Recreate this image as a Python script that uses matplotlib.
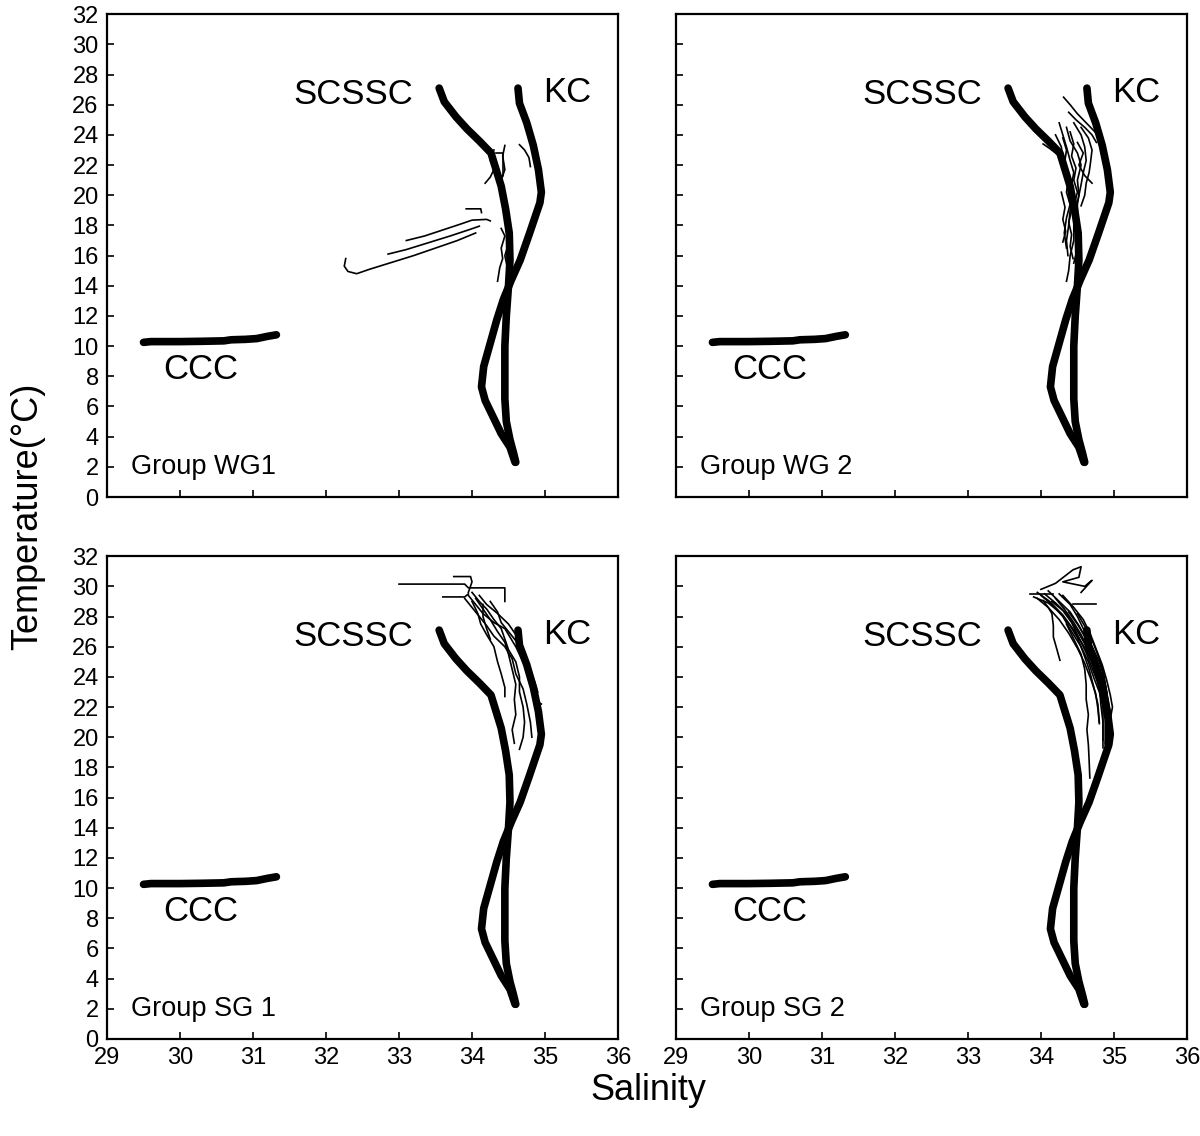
import matplotlib
matplotlib.use("Agg")
import matplotlib.pyplot as plt

plt.rcParams.update({
    "font.family": ["Liberation Sans", "DejaVu Sans"],
    "font.size": 17,
    "axes.linewidth": 1.6,
    "xtick.direction": "in", "ytick.direction": "in",
    "xtick.major.size": 5, "ytick.major.size": 5,
    "xtick.major.width": 1.2, "ytick.major.width": 1.2,
})

# reference water-mass curves (salinity, temperature)
scssc_s = [33.55, 33.62, 33.78, 33.93, 34.1, 34.26, 34.33, 34.4, 34.46, 34.51, 34.52,
           34.5, 34.47, 34.45, 34.45, 34.45, 34.47, 34.52, 34.57, 34.6]
scssc_t = [27.1, 26.2, 25.2, 24.4, 23.6, 22.8, 21.7, 20.6, 19.1, 17.5, 15.7,
           14.0, 12.0, 10.0, 8.0, 6.5, 5.0, 3.8, 2.9, 2.3]
kc_s = [34.63, 34.65, 34.75, 34.84, 34.91, 34.95, 34.93, 34.79, 34.66, 34.54, 34.43,
        34.34, 34.25, 34.16, 34.13, 34.18, 34.29, 34.4, 34.52, 34.59]
kc_t = [27.1, 26.1, 24.8, 23.3, 21.7, 20.2, 19.5, 17.5, 15.7, 14.4, 13.1,
        11.75, 10.2, 8.65, 7.3, 6.4, 5.3, 4.2, 3.3, 2.3]
ccc_s = [29.5, 29.6, 29.8, 30.0, 30.3, 30.6, 30.7, 30.9, 31.05, 31.2, 31.32]
ccc_t = [10.25, 10.3, 10.3, 10.3, 10.32, 10.35, 10.42, 10.45, 10.5, 10.65, 10.75]

# observed profiles per group, each profile = (salinity list, temperature list)
wg1 = [
    ([32.27, 32.25, 32.3, 32.42, 32.6, 32.9, 33.2, 33.5, 33.8, 34.05],
     [15.8, 15.3, 14.95, 14.8, 15.1, 15.55, 16.0, 16.5, 17.0, 17.5]),
    ([32.85, 33.1, 33.4, 33.7, 33.95, 34.1],
     [16.1, 16.4, 16.85, 17.3, 17.7, 17.95]),
    ([33.1, 33.35, 33.6, 33.85, 34.0, 34.2, 34.25],
     [17.0, 17.3, 17.7, 18.1, 18.35, 18.4, 18.3]),
    ([33.92, 34.12, 34.13], [19.1, 19.1, 18.85]),
    ([34.3, 34.25, 34.3, 34.25, 34.18], [23.0, 22.3, 21.7, 21.2, 20.8]),
    ([34.45, 34.42, 34.45, 34.4], [23.3, 22.6, 21.7, 21.0]),
    ([34.33, 34.42, 34.42, 34.33, 34.33], [22.8, 22.8, 21.3, 21.3, 22.2]),
    ([34.65, 34.72, 34.78, 34.8], [23.35, 23.0, 22.5, 21.9]),
    ([34.4, 34.45, 34.4, 34.42, 34.38, 34.35], [17.8, 17.3, 16.5, 15.8, 15.2, 14.3]),
    ([34.47, 34.5, 34.45, 34.48], [17.6, 16.8, 16.0, 15.3]),
]
wg2 = [
    ([34.31, 34.4, 34.5, 34.6, 34.7, 34.8], [26.5, 26.0, 25.4, 24.9, 24.4, 23.9]),
    ([34.38, 34.48, 34.6, 34.7, 34.76], [25.5, 25.0, 24.5, 24.0, 23.5]),
    ([34.03, 34.12, 34.2, 34.27], [23.4, 23.1, 22.8, 22.5]),
    ([34.25, 34.3, 34.35, 34.4, 34.45, 34.42, 34.45, 34.4, 34.38, 34.35, 34.37],
     [24.8, 24.0, 23.2, 22.3, 21.5, 20.7, 19.8, 19.0, 18.0, 17.0, 16.0]),
    ([34.35, 34.4, 34.5, 34.55, 34.5, 34.52, 34.48, 34.45, 34.45, 34.4, 34.38, 34.35],
     [24.5, 23.6, 22.8, 22.0, 21.0, 20.0, 19.0, 18.0, 17.0, 16.0, 15.0, 14.3]),
    ([34.45, 34.55, 34.6, 34.62, 34.58, 34.55, 34.5, 34.5, 34.48, 34.5, 34.45],
     [24.8, 24.0, 23.2, 22.3, 21.5, 20.7, 19.5, 18.5, 17.5, 16.5, 15.5]),
    ([34.55, 34.65, 34.7, 34.68, 34.66, 34.62, 34.6, 34.55],
     [24.5, 23.8, 23.0, 22.2, 21.5, 20.8, 20.0, 19.3]),
    ([34.3, 34.35, 34.32, 34.38, 34.35, 34.4, 34.35, 34.32, 34.35],
     [23.8, 23.0, 22.0, 21.2, 20.2, 19.4, 18.5, 17.5, 16.5]),
    ([34.5, 34.58, 34.52, 34.6, 34.7], [23.5, 22.8, 22.0, 21.3, 20.8]),
    ([34.2, 34.28, 34.3, 34.35, 34.4], [24.0, 23.2, 22.4, 21.6, 20.8]),
    ([34.4, 34.45, 34.42, 34.48, 34.45, 34.5, 34.46], [24.2, 23.4, 22.6, 21.8, 21.0, 20.2, 19.5]),
    ([34.38, 34.42, 34.38, 34.42, 34.4, 34.44], [19.8, 19.0, 18.2, 17.4, 16.6, 15.8]),
    ([34.28, 34.33, 34.3, 34.34, 34.3], [20.2, 19.2, 18.4, 17.6, 16.9]),
]
sg1 = [
    ([33.0, 33.9, 33.95, 34.45, 34.45], [30.15, 30.15, 29.9, 29.9, 29.0]),
    ([33.75, 33.98, 34.0, 33.95], [30.65, 30.65, 30.3, 29.6]),
    ([33.6, 33.9, 33.95], [29.3, 29.3, 29.5]),
    ([33.95, 34.05, 34.15, 34.3, 34.45, 34.6, 34.7, 34.8, 34.85, 34.9, 34.92],
     [29.4, 28.8, 28.2, 27.6, 27.2, 26.0, 25.0, 24.0, 23.0, 22.0, 21.0]),
    ([33.9, 34.0, 34.1, 34.2, 34.3, 34.45, 34.55, 34.6, 34.7, 34.75, 34.8, 34.82],
     [29.2, 28.6, 28.0, 27.4, 26.7, 26.0, 25.2, 24.2, 23.2, 22.2, 21.0, 20.0]),
    ([34.0, 34.08, 34.12, 34.2, 34.3, 34.35, 34.4, 34.45, 34.45],
     [29.0, 28.2, 27.5, 26.8, 26.0, 25.0, 24.2, 23.3, 22.7]),
    ([34.05, 34.15, 34.25, 34.35, 34.45, 34.5, 34.55, 34.6, 34.58, 34.6, 34.55, 34.58],
     [29.2, 28.5, 27.8, 27.0, 26.3, 25.5, 24.5, 23.5, 22.5, 21.5, 20.5, 19.6]),
    ([34.1, 34.2, 34.35, 34.5, 34.6, 34.65, 34.75, 34.8, 34.85, 34.95],
     [29.4, 28.8, 28.2, 27.5, 26.8, 25.8, 24.8, 23.5, 22.5, 22.2]),
    ([34.0, 34.1, 34.2, 34.3, 34.4, 34.45, 34.5, 34.6, 34.65, 34.65, 34.7, 34.72, 34.7, 34.65],
     [29.6, 29.0, 28.5, 27.8, 27.2, 26.5, 25.8, 25.0, 24.0, 23.0, 22.0, 21.0, 20.0, 19.2]),
    ([34.15, 34.15, 34.2, 34.25], [28.8, 28.0, 27.2, 26.5]),
    ([34.25, 34.35, 34.4, 34.5, 34.6, 34.7, 34.78, 34.85, 34.9],
     [29.0, 28.3, 27.6, 27.0, 26.4, 25.6, 24.6, 23.8, 23.0]),
]
sg2 = [
    ([34.0, 34.2, 34.44, 34.55, 34.52, 34.3, 34.6, 34.7, 34.55],
     [29.8, 30.2, 31.1, 31.3, 30.6, 30.3, 30.0, 30.4, 29.6]),
    ([33.85, 34.17], [29.5, 29.5]),
    ([34.44, 34.75], [28.8, 28.8]),
    ([34.03, 34.1, 34.15, 34.17, 34.17, 34.22, 34.26],
     [29.06, 28.6, 28.2, 27.4, 26.65, 25.8, 25.1]),
    ([34.0, 34.15, 34.3, 34.42, 34.55, 34.65, 34.72, 34.8, 34.85, 34.85, 34.85, 34.85],
     [29.4, 28.8, 28.0, 27.0, 26.0, 25.0, 24.0, 23.0, 22.0, 21.0, 20.0, 19.3]),
    ([34.05, 34.2, 34.35, 34.48, 34.6, 34.7, 34.78, 34.85, 34.9, 34.92, 34.9, 34.88],
     [29.5, 28.9, 28.2, 27.2, 26.2, 25.2, 24.3, 23.3, 22.3, 21.3, 20.3, 19.5]),
    ([33.95, 34.1, 34.25, 34.38, 34.5, 34.6, 34.68, 34.75, 34.78, 34.8],
     [29.2, 28.6, 27.8, 26.9, 25.9, 24.9, 23.9, 22.9, 21.9, 20.9]),
    ([34.1, 34.25, 34.4, 34.52, 34.62, 34.72, 34.8, 34.88, 34.92, 34.95],
     [29.7, 29.0, 28.3, 27.4, 26.5, 25.5, 24.5, 23.5, 22.5, 21.5]),
    ([34.2, 34.32, 34.45, 34.55, 34.65, 34.75, 34.82, 34.88],
     [29.2, 28.5, 27.6, 26.8, 25.8, 24.8, 23.8, 22.8]),
    ([34.3, 34.45, 34.58, 34.68, 34.76, 34.84, 34.9, 34.95, 34.98, 34.95],
     [29.4, 28.6, 27.8, 26.8, 25.8, 24.8, 23.8, 22.8, 22.0, 21.2]),
    ([34.35, 34.45, 34.55, 34.6, 34.62, 34.62, 34.65, 34.63, 34.65, 34.66, 34.67],
     [27.5, 26.5, 25.5, 24.5, 23.5, 22.5, 21.5, 20.5, 19.5, 18.5, 17.3]),
    ([34.38, 34.5, 34.6, 34.7, 34.75, 34.8, 34.82, 34.85, 34.85],
     [28.3, 27.5, 26.7, 25.8, 24.7, 23.5, 22.2, 21.0, 19.8]),
    ([33.9, 34.1, 34.3, 34.45, 34.58, 34.7, 34.8, 34.9, 34.95],
     [29.3, 28.9, 28.1, 27.1, 26.1, 25.0, 23.8, 22.5, 20.5]),
    ([34.15, 34.3, 34.42, 34.52, 34.62, 34.7, 34.78, 34.84, 34.88, 34.88],
     [29.0, 28.4, 27.6, 26.6, 25.6, 24.6, 23.6, 22.4, 21.2, 19.6]),
    ([33.95, 34.12, 34.28, 34.4, 34.5, 34.58, 34.66, 34.72, 34.78, 34.8],
     [29.6, 29.0, 28.2, 27.4, 26.6, 25.6, 24.5, 23.4, 22.2, 21.0]),
    ([34.25, 34.4, 34.5, 34.6, 34.7, 34.8, 34.86, 34.9, 34.92, 34.9],
     [29.5, 28.8, 28.0, 27.0, 26.0, 25.0, 24.0, 23.0, 21.8, 19.8]),
    ([34.5, 34.62, 34.72, 34.8, 34.86, 34.9, 34.9], [28.2, 27.2, 26.2, 25.2, 24.2, 23.0, 21.0]),
]

panels = [
    ("Group WG1", wg1), ("Group WG 2", wg2),
    ("Group SG 1", sg1), ("Group SG 2", sg2),
]
xticks = [29, 30, 31, 32, 33, 34, 35, 36]
yticks = list(range(0, 33, 2))

fig = plt.figure(figsize=(12, 11.36), dpi=100)
lefts = [0.0892, 0.5633]
bottoms = [0.5625, 0.0854]
w, h = 0.4258, 0.4250

for k, (name, profs) in enumerate(panels):
    row, col = divmod(k, 2)
    ax = fig.add_axes([lefts[col], bottoms[row], w, h])
    for s, t in profs:
        ax.plot(s, t, color="black", lw=1.2, zorder=2)
    for s, t in [(scssc_s, scssc_t), (kc_s, kc_t), (ccc_s, ccc_t)]:
        ax.plot(s, t, color="black", lw=5.5, solid_capstyle="round",
                solid_joinstyle="round", zorder=3)
    ax.text(31.55, 26.7, "SCSSC", fontsize=25, ha="left", va="center")
    ax.text(34.97, 26.8, "KC", fontsize=25, ha="left", va="center")
    ax.text(29.77, 8.45, "CCC", fontsize=25, ha="left", va="center")
    ax.text(29.33, 2.0, name, fontsize=19.5, ha="left", va="center")
    ax.set_xlim(29, 36)
    ax.set_ylim(0, 32)
    ax.set_xticks(xticks)
    ax.set_yticks(yticks)
    if row == 0:
        ax.set_xticklabels([])
    if col == 1:
        ax.set_yticklabels([])
    ax.tick_params(labelsize=17, pad=6)

fig.text(28 / 1200, 1 - 516 / 1136, "Temperature(°C)", rotation=90,
         fontsize=26, ha="center", va="center")
fig.text(648 / 1200, 1 - 1090 / 1136, "Salinity", fontsize=26,
         ha="center", va="center")

fig.savefig("out.png", dpi=100, facecolor="white")
